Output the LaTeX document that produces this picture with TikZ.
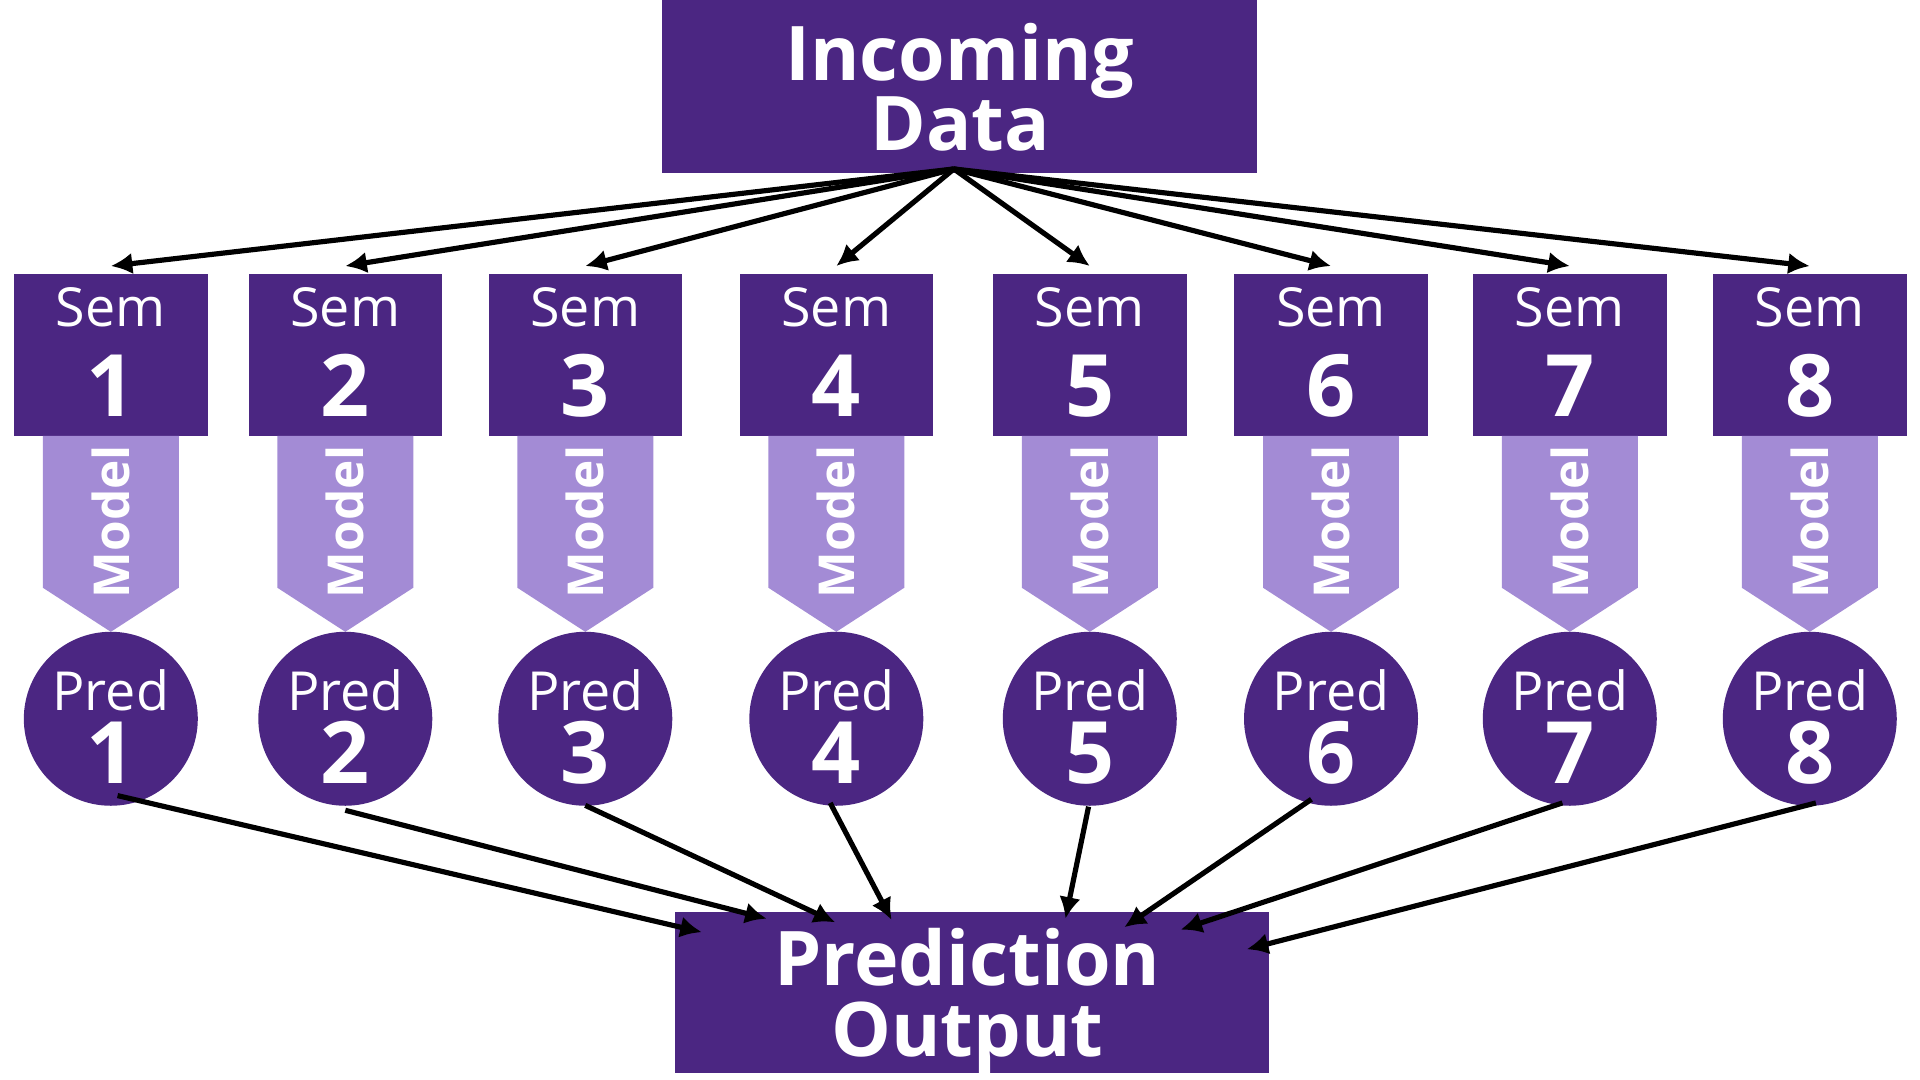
\documentclass[tikz,border=0pt]{standalone}
\usepackage{fontspec}
\setmainfont{Open Sans}
\usetikzlibrary{arrows.meta,calc}

\definecolor {baseColor}{RGB}{ 75,  38, 130}
\definecolor{modelColor}{RGB}{163, 139, 213}
\tikzset{
  chevron/.style n args={2}{insert path={% model banner
       ({#1-#2},356) -- ({#1+#2},356) -- ({#1+#2},480)
    -- (#1,516) -- ({#1-#2},480) -- cycle}}}

\begin{document}
\begin{tikzpicture}[
  x=0.01cm, y=-0.01cm,
  flow box/.style  ={fill=baseColor, minimum width=4.85cm, inner sep=0},
  sem box/.style   ={fill=baseColor, minimum width=1.58cm, minimum height=1.32cm, inner sep=0},
  pred disc/.style ={circle, fill=baseColor, minimum size=1.42cm, inner sep=0},
  model fill/.style={fill=modelColor},
  head text/.style ={text=white, inner sep=0, anchor=base, font=\fontsize{17.5}{17.5}\bfseries},
  small text/.style={text=white, inner sep=0, anchor=base, font=\fontsize{12.5}{12.5}\selectfont},
  num text/.style  ={text=white, inner sep=0, anchor=base, font=\fontsize{20}{20}\bfseries},
  model text/.style={text=white, inner sep=0, rotate=90, font=\fontsize{11.5}{11.5}\bfseries},
  link/.style      ={draw=black, line width=1.2pt, -{Latex[length=5pt,width=5pt]}},
]
%%%%%%%%%%%%%%%%%%%%%%%%%%%%%%%%%%%%%%%%%%%%%%%%%%%%%%%%%%%%%%%%%%%%%%%%%%%%%%%%%%%%%%%%%
%
%   SETTINGS
%
%%%%%%%%%%%%%%%%%%%%%%%%%%%%%%%%%%%%%%%%%%%%%%%%%%%%%%%%%%%%%%%%%%%%%%%%%%%%%%%%%%%%%%%%%
\newcommand*\semCenters{90.5, 282, 478, 683, 890, 1087, 1282, 1478}
\newcommand*\bannerHalf{55.5}

\useasboundingbox (0,0) rectangle (1568,882);

%%%%%%%%%%%%%%%%%%%%%%%%%%%%%%%%%%%%%%%%%%%%%%%%%%%%%%%%%%%%%%%%%%%%%%%%%%%%%%%%%%%%%%%%%
%
%   DRAWING
%
%%%%%%%%%%%%%%%%%%%%%%%%%%%%%%%%%%%%%%%%%%%%%%%%%%%%%%%%%%%%%%%%%%%%%%%%%%%%%%%%%%%%%%%%%
\node[flow box, minimum height=1.41cm] (inc) at (783.5,70.5) {};
\node[head text] (incTop) at (784,66)  {Incoming};
\node[head text] (incBot) at (784,123) {Data};

\node[flow box, minimum height=1.31cm] (out) at (793.5,810.5) {};

% one column per semester
\foreach \cx [count=\i] in \semCenters {
  \node[sem box] (sem\i) at (\cx,290) {};
  \node[small text] (semLabel\i) at (\cx,267) {Sem};
  \node[num text]   (semNum\i)   at (\cx,340) {\i};

  \fill[model fill, chevron={\cx}{\bannerHalf}];
  \node[model text] (model\i) at (\cx,426) {Model};

  \node[pred disc] (pred\i) at (\cx,587) {};
  \node[small text] (predLabel\i) at (\cx,580) {Pred};
  \node[num text]   (predNum\i)   at (\cx,640) {\i};
}

%% arrows on top
\coordinate (hub) at (779,138);
\foreach \i in {1, ..., 8}
  \draw[link] (hub) -- ($(sem\i.north)+(0,-6)$);

\foreach \i/\sx/\sy/\ex/\ey in {1/5.5/-9/23/17, 2/0/3/76/6, 3/0/-1/132/9, 4/-5/-3/178/7,
                                5/-1/0/320/6, 6/-16/-6/368/13, 7/-6/-3/414/15, 8/5/-3/468/31}
  \draw[link] ($(pred\i.south)+(\sx,\sy)$) -- ($(out.north west)+(\ex,\ey)$);

\node[head text] (outTop) at (790,805) {Prediction};
\node[head text] (outBot) at (790,863) {Output};

\end{tikzpicture}
\end{document}
